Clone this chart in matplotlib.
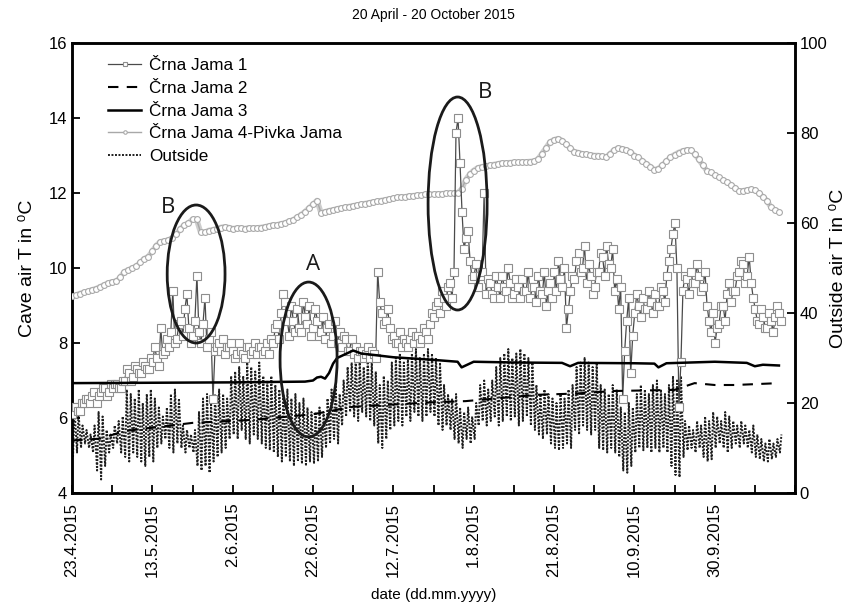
import numpy as np
import matplotlib
matplotlib.use("Agg")
import matplotlib.pyplot as plt
import matplotlib.dates as mdates
from matplotlib.patches import Ellipse
from matplotlib.ticker import FuncFormatter, FixedLocator
from datetime import datetime

plt.rcParams['font.family'] = ['Liberation Sans', 'DejaVu Sans']

# ---------------- data (daily values, day 0 = 23.4.2015) ----------------
start_date = datetime(2015, 4, 23)

# Crna Jama 1 (left axis, deg C): first and second reading of each day
cj1 = [6.1, 6.3, 6.2, 6.4, 6.5, 6.6, 6.4, 6.7, 6.8, 6.7,
       6.8, 6.9, 6.8, 7.0, 7.2, 7.1, 7.3, 7.2, 7.4, 7.3,
       7.5, 7.6, 8.4, 7.8, 7.9, 9.4, 8.1, 8.6, 8.9, 8.4,
       8.2, 9.8, 8.0, 9.2, 8.1, 6.5, 7.9, 7.8, 7.7, 7.9,
       7.8, 7.7, 7.8, 7.6, 7.9, 7.8, 7.7, 7.9, 7.8, 7.7,
       8.0, 8.5, 8.8, 9.1, 8.2, 8.6, 8.9, 8.3, 8.7, 9.0,
       8.4, 8.6, 8.3, 8.1, 8.5, 8.2, 8.0, 7.9, 8.1, 7.8,
       7.7, 7.6, 7.8, 7.7, 7.6, 7.7, 9.9, 8.8, 8.6, 8.4,
       8.2, 8.0, 7.9, 8.0, 8.1, 8.0, 8.2, 8.1, 8.3, 8.5,
       8.7, 9.1, 9.4, 9.0, 9.6, 9.9, 14.0, 11.5, 10.8, 10.2,
       9.8, 9.5, 9.9, 9.3, 9.6, 9.2, 9.5, 9.8, 9.4, 9.6,
       9.3, 9.5, 9.7, 9.4, 9.2, 9.5, 9.8, 9.3, 9.0, 9.6,
       9.9, 10.2, 9.5, 8.4, 9.4, 9.7, 10.4, 10.0, 9.6, 9.8,
       9.5, 9.9, 10.3, 10.6, 10.0, 9.4, 8.9, 6.5, 8.6, 7.2,
       8.8, 9.0, 9.2, 8.9, 9.1, 9.3, 9.0, 9.4, 9.8, 10.5,
       11.2, 6.3, 9.4, 9.7, 9.9, 9.6, 9.8, 9.5, 9.0, 8.3,
       8.0, 8.5, 9.0, 9.3, 9.1, 9.4, 9.9, 10.1, 9.8, 9.6,
       8.9, 8.5, 8.7, 8.4, 8.6, 8.7, 8.8]
cj1_b = [6.3, 6.2, 6.4, 6.5, 6.4, 6.7, 6.6, 6.8, 6.6, 6.9,
         6.9, 6.8, 7.0, 7.3, 7.0, 7.4, 7.2, 7.5, 7.3, 7.6,
         7.9, 7.4, 7.7, 8.1, 8.3, 8.0, 8.5, 8.2, 9.3, 8.0,
         8.6, 8.3, 8.5, 7.9, 8.3, 7.8, 8.0, 8.1, 7.9, 8.0,
         7.6, 8.0, 7.7, 7.9, 7.7, 8.0, 7.9, 7.7, 8.0, 8.1,
         8.4, 8.1, 9.3, 8.6, 9.0, 8.3, 8.4, 9.1, 8.5, 8.2,
         8.9, 8.2, 8.7, 8.4, 8.0, 8.6, 8.3, 8.2, 7.8, 8.1,
         7.9, 7.8, 7.6, 7.9, 7.8, 7.6, 9.1, 8.5, 8.9, 8.1,
         8.0, 8.3, 8.1, 7.9, 8.3, 8.2, 8.0, 8.4, 8.1, 8.8,
         9.0, 8.8, 9.2, 9.5, 9.2, 13.6, 12.8, 10.5, 11.0, 9.7,
         10.1, 9.8, 12.0, 9.7, 9.3, 9.8, 9.2, 9.5, 10.0, 9.2,
         9.7, 9.2, 9.4, 9.9, 9.5, 9.1, 9.4, 9.9, 9.4, 9.2,
         9.4, 9.7, 10.0, 8.9, 9.8, 10.2, 9.9, 10.6, 10.1, 9.3,
         9.9, 10.4, 9.8, 10.1, 10.5, 9.7, 9.5, 7.8, 9.2, 8.2,
         9.3, 8.7, 8.9, 9.4, 8.8, 9.0, 9.5, 9.1, 10.2, 10.9,
         10.0, 7.5, 9.8, 9.3, 9.6, 10.1, 9.4, 9.9, 8.6, 8.8,
         8.4, 9.0, 8.6, 9.6, 9.4, 9.8, 10.2, 9.6, 10.3, 9.2,
         8.6, 8.9, 8.4, 8.8, 8.3, 9.0, 8.6]

# Crna Jama 4 - Pivka Jama (left axis, deg C)
cj4 = [9.25, 9.28, 9.32, 9.35, 9.38, 9.42, 9.45, 9.50, 9.55, 9.60,
       9.63, 9.65, 9.75, 9.90, 9.95, 10.0, 10.05, 10.15, 10.25, 10.30,
       10.45, 10.6, 10.7, 10.72, 10.75, 10.8, 10.9, 11.05, 11.15, 11.2,
       11.3, 11.3, 10.96, 10.95, 11.0, 11.02, 11.05, 11.08, 11.1, 11.08,
       11.05, 11.06, 11.07, 11.05, 11.07, 11.06, 11.07, 11.08, 11.10, 11.12,
       11.15, 11.15, 11.18, 11.2, 11.25, 11.28, 11.35, 11.42, 11.5, 11.6,
       11.7, 11.8, 11.47, 11.5, 11.53, 11.55, 11.58, 11.6, 11.62, 11.64,
       11.66, 11.68, 11.7, 11.72, 11.74, 11.76, 11.78, 11.8, 11.82, 11.84,
       11.86, 11.88, 11.9, 11.9, 11.92, 11.93, 11.94, 11.95, 11.96, 11.96,
       11.97, 11.98, 11.98, 11.99, 12.0, 12.0, 12.0, 12.1, 12.35, 12.5,
       12.6, 12.67, 12.7, 12.72, 12.74, 12.76, 12.78, 12.8, 12.8, 12.81,
       12.82, 12.82, 12.83, 12.83, 12.84, 12.85, 12.9, 13.05, 13.2, 13.36,
       13.42, 13.45, 13.4, 13.3, 13.2, 13.1, 13.08, 13.05, 13.03, 13.02,
       13.0, 13.0, 12.98, 12.96, 13.05, 13.15, 13.2, 13.18, 13.15, 13.1,
       13.0, 12.95, 12.85, 12.78, 12.7, 12.62, 12.65, 12.75, 12.85, 12.96,
       13.02, 13.08, 13.12, 13.15, 13.15, 13.05, 12.9, 12.75, 12.6, 12.55,
       12.48, 12.42, 12.35, 12.3, 12.22, 12.14, 12.05, 12.06, 12.08, 12.1,
       12.08, 12.0, 11.9, 11.8, 11.62, 11.55, 11.5]

# Crna Jama 2 (left axis), sampled days
cj2_days = [0, 7, 13, 30, 45, 60, 70, 90, 98, 116, 125, 135, 150, 155, 160, 165, 176]
cj2 = [5.4, 5.45, 5.65, 5.87, 5.95, 6.1, 6.3, 6.42, 6.45, 6.62, 6.65, 6.72, 6.75, 6.93, 6.88, 6.88, 6.93]

# Crna Jama 3 (left axis), sampled days
cj3_days = [0, 20, 40, 58, 60, 61, 62, 63, 64, 65, 66, 67, 68, 70, 72, 80, 90, 96, 97, 100,
            110, 122, 124, 126, 140, 145, 146, 148, 160, 168, 170, 172, 176]
cj3 = [6.93, 6.94, 6.95, 6.97, 7.0, 7.08, 7.1, 7.05, 7.2, 7.45, 7.6, 7.65, 7.7, 7.8, 7.72,
       7.62, 7.55, 7.5, 7.35, 7.5, 7.48, 7.47, 7.38, 7.47, 7.46, 7.45, 7.35, 7.46, 7.5,
       7.47, 7.38, 7.42, 7.4]

# Outside (right axis, deg C): daily maxima and minima
out_max = [19, 18, 15, 14, 13, 15, 18, 17, 14, 13,
           15, 16, 17, 23, 22, 21, 23, 20, 22, 23,
           21, 19, 17, 19, 22, 23, 21, 15, 14, 13,
           14, 18, 21, 22, 20, 22, 23, 22, 21, 26,
           27, 28, 26, 29, 28, 27, 29, 26, 25, 26,
           24, 23, 22, 23, 21, 22, 20, 21, 19, 18,
           18, 19, 18, 21, 23, 24, 22, 25, 28, 29,
           30, 29, 28, 30, 29, 27, 24, 26, 25, 29,
           30, 31, 29, 30, 31, 32, 30, 31, 32, 31,
           30, 29, 24, 22, 21, 22, 19, 18, 19, 17,
           20, 24, 25, 23, 25, 28, 30, 31, 32, 30,
           31, 32, 31, 30, 29, 24, 22, 23, 22, 21,
           20, 22, 21, 23, 24, 28, 29, 30, 29, 28,
           29, 24, 23, 22, 24, 23, 19, 18, 20, 19,
           22, 24, 23, 22, 24, 25, 23, 22, 24, 26,
           25, 26, 16, 15, 14, 16, 15, 17, 16, 18,
           17, 16, 18, 17, 16, 15, 16, 15, 14, 15,
           13, 12, 11, 12, 11, 12, 13]
out_min = [8, 9, 10, 11, 10, 9, 5, 3, 6, 9,
           10, 11, 9, 8, 7, 9, 8, 7, 6, 8,
           7, 10, 11, 12, 10, 9, 11, 10, 9, 10,
           9, 6, 5, 6, 4.5, 7, 8, 9, 10, 12,
           13, 12, 14, 12, 11, 13, 12, 11, 10, 9.5,
           9, 8, 7, 8, 7, 6, 7, 6.5, 6, 7,
           6.5, 7, 8, 10, 11, 12, 11, 15, 17, 18,
           17, 16, 18, 17, 16, 15, 11, 10, 12, 14,
           15, 16, 15, 17, 16, 18, 17, 16, 17, 18,
           17, 15, 14, 15, 14, 12, 11, 10, 12, 11,
           12, 15, 16, 15, 16, 17, 15, 16, 17, 16,
           17, 15, 16, 17, 15, 14, 13, 12, 13, 11,
           10, 9.5, 10, 11, 10, 14, 13, 15, 14, 13,
           14, 10, 9.5, 9, 10, 9, 8, 5, 4.5, 6,
           9, 10, 9.5, 10, 9, 10, 9, 10, 9, 6,
           4, 3.5, 8, 9.5, 10, 9, 10, 8, 7, 7.5,
           10, 11, 10, 9, 10, 11, 10, 11, 10, 9,
           8, 7.5, 7, 7, 7.5, 8, 9]

major_tick_days = [0, 20, 40, 60, 80, 100, 120, 140, 160]
minor_tick_days = list(range(0, 181, 10))

# ---------------- figure ----------------
fig = plt.figure(figsize=(8.61, 6.11), dpi=100)
ax = fig.add_axes([72/861, 1-493/611, (795-72)/861, (493-43)/611])
ax2 = ax.twinx()

d0 = mdates.date2num(start_date)
xd = d0 + np.arange(len(cj1))

# outside on right axis, daily min -> max cycles
n = len(out_max)
xo = np.empty(2 * n)
yo = np.empty(2 * n)
xo[0::2] = d0 + np.arange(n) + 0.25
xo[1::2] = d0 + np.arange(n) + 0.62
yo[0::2] = out_min
yo[1::2] = out_max
l_out, = ax2.plot(xo, yo, ls=(0, (1, 0.8)), color='#1e1e1e', lw=1.4, label='Outside')

ax.set_zorder(ax2.get_zorder() + 1)
ax.patch.set_visible(False)

# Crna Jama 4: band of dense small circles
ax.plot(xd, cj4, color='#cdcdcd', lw=4.0, solid_capstyle='round', zorder=2)
l4, = ax.plot(xd, cj4, color='#a8a8a8', lw=1.0, marker='o', ms=4.2, mfc='white',
              mec='#a9a9a9', mew=0.8, label='Črna Jama 4-Pivka Jama', zorder=3)

# Crna Jama 1: two readings per day
m = len(cj1)
x1 = np.empty(2 * m)
y1 = np.empty(2 * m)
x1[0::2] = xd + 0.1
x1[1::2] = xd + 0.6
y1[0::2] = cj1
y1[1::2] = cj1_b
l1, = ax.plot(x1, y1, color='#4a4a4a', lw=0.9, marker='s', ms=5.6, mfc='white',
              mec='#8e8e8e', mew=0.8, label='Črna Jama 1', zorder=3)

l2, = ax.plot(d0 + np.array(cj2_days), cj2, color='black', lw=1.5, ls=(0, (5, 4)),
              label='Črna Jama 2', zorder=4)
l3, = ax.plot(d0 + np.array(cj3_days), cj3, color='black', lw=1.8, label='Črna Jama 3', zorder=4)

# ellipses and labels
for (cx, cy, w, h) in [(30.9, 9.84, 14.4, 3.68), (58.9, 7.56, 14.2, 4.13), (96.0, 11.72, 14.7, 5.68)]:
    ax.add_patch(Ellipse((d0 + cx, cy), w, h, fill=False, ec='#1a1a1a', lw=2.0, zorder=5))
for (tx, ty, s) in [(23.8, 11.62, 'B'), (59.9, 10.1, 'A'), (102.8, 14.68, 'B')]:
    ax.text(d0 + tx, ty, s, fontsize=16, family=['Open Sans', 'DejaVu Sans'],
            ha='center', va='center', color='#1a1a1a')

# axes
ax.set_xlim(d0, d0 + 180)
ax.set_ylim(4, 16)
ax2.set_ylim(0, 100)
ax.set_yticks([4, 6, 8, 10, 12, 14, 16])
ax2.set_yticks([0, 20, 40, 60, 80, 100])
ax.xaxis.set_major_locator(FixedLocator([d0 + d for d in major_tick_days]))
ax.xaxis.set_minor_locator(FixedLocator([d0 + d for d in minor_tick_days]))

def fmt(v, pos):
    dt = mdates.num2date(v)
    return f"{dt.day}.{dt.month}.{dt.year}"

ax.xaxis.set_major_formatter(FuncFormatter(fmt))
for lab in ax.get_xticklabels():
    lab.set_rotation(90)

ax.tick_params(axis='both', which='both', direction='in', labelsize=12, width=1.3)
ax.tick_params(axis='x', which='major', length=6, pad=7)
ax.tick_params(axis='x', which='minor', length=6)
ax.tick_params(axis='y', length=6)
ax2.tick_params(axis='y', direction='in', labelsize=12, width=1.3, length=6)
for a in (ax, ax2):
    for sp in a.spines.values():
        sp.set_linewidth(1.8)

ax.set_ylabel('Cave air T in ⁰C', fontsize=14, labelpad=9)
ax2.set_ylabel('Outside air T in ⁰C', fontsize=14, labelpad=2)
ax.set_xlabel('date (dd.mm.yyyy)', fontsize=11, labelpad=8)
ax.set_title('20 April - 20 October 2015', fontsize=10, pad=17)

ax.legend(handles=[l1, l2, l3, l4, l_out], loc='upper left', bbox_to_anchor=(0.029, 1.0),
          frameon=False, fontsize=12.3, handlelength=1.9, labelspacing=0.45,
          handletextpad=0.5, markerscale=0.6)

fig.savefig('out.png', dpi=100)
